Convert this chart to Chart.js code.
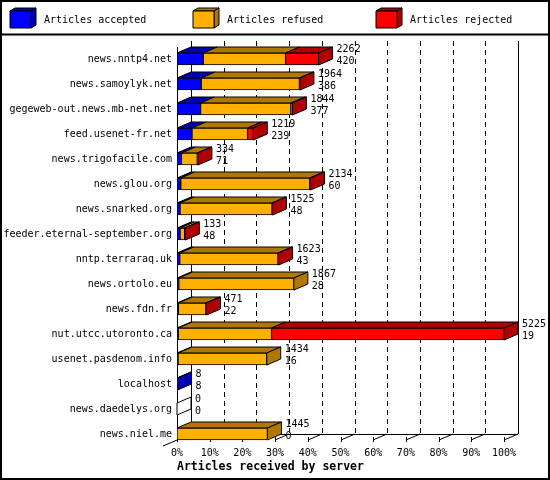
<!DOCTYPE html>
<html>
<head>
<meta charset="utf-8">
<script src="https://cdn.jsdelivr.net/npm/chart.js@4.4.1/dist/chart.umd.min.js"></script>
<style>
  html, body { margin: 0; padding: 0; background: #fff; }
  #wrap { width: 550px; height: 480px; }
</style>
</head>
<body>
<div id="wrap"><canvas id="chart"></canvas></div>
<script>
const servers = [
    'news.nntp4.net', 'news.samoylyk.net', 'gegeweb-out.news.mb-net.net', 'feed.usenet-fr.net',
    'news.trigofacile.com', 'news.glou.org', 'news.snarked.org', 'feeder.eternal-september.org',
    'nntp.terraraq.uk', 'news.ortolo.eu', 'news.fdn.fr', 'nut.utcc.utoronto.ca',
    'usenet.pasdenom.info', 'localhost', 'news.daedelys.org', 'news.niel.me'
];
const accepted = [420, 386, 377, 239, 71, 60, 48, 48, 43, 28, 22, 19, 16, 8, 0, 0];
const refused  = [1315, 1570, 1442, 889, 253, 2059, 1470, 75, 1570, 1839, 439, 1492, 1418, 0, 0, 1445];
const rejected = [527, 8, 25, 91, 10, 15, 7, 10, 10, 0, 10, 3714, 0, 0, 0, 0];

const seriesNames = ['Articles accepted', 'Articles refused', 'Articles rejected'];
const faceColors = ['#0000ff', '#ffb000', '#ff0000'];
const shadeColors = ['#0000b0', '#b07800', '#b00000'];
const axisTitle = 'Articles received by server';

const totals = servers.map((s, i) => accepted[i] + refused[i] + rejected[i]);
const maxTotal = Math.max(...totals);
const toPct = arr => arr.map(v => v / maxTotal * 100);

const DX = 14, DY = 6;
const FONT = '"DejaVu Sans Mono", monospace';
const px = v => Math.round(v) + 0.5;

function poly(ctx, pts, fill) {
    ctx.beginPath();
    ctx.moveTo(pts[0][0], pts[0][1]);
    pts.slice(1).forEach(p => ctx.lineTo(p[0], p[1]));
    ctx.closePath();
    ctx.fillStyle = fill;
    ctx.fill();
    ctx.stroke();
}

const threeD = {
    id: 'threeD',
    beforeDraw(chart) {
        const ctx = chart.ctx;
        ctx.save();
        ctx.fillStyle = '#fff';
        ctx.fillRect(0, 0, chart.width, chart.height);
        ctx.restore();
    },
    beforeDatasetsDraw(chart) {
        const { ctx, chartArea: a, scales: { x } } = chart;
        const n = servers.length;
        const lastBar = chart.getDatasetMeta(0).data[n - 1];
        const floorY = Math.round(lastBar.y + lastBar.height / 2);
        const wallTop = Math.round(a.top) - DY;
        const x0 = Math.round(x.getPixelForValue(0));
        const x100 = Math.round(x.getPixelForValue(100));

        ctx.save();
        ctx.strokeStyle = '#000';
        ctx.lineWidth = 1;

        // back wall dashed grid
        ctx.setLineDash([5, 4]);
        for (let t = 10; t < 100; t += 10) {
            const gx = px(x.getPixelForValue(t) + DX);
            ctx.beginPath();
            ctx.moveTo(gx, wallTop);
            ctx.lineTo(gx, floorY - DY);
            ctx.stroke();
        }
        ctx.setLineDash([]);

        // back wall edges, front axis, floor
        ctx.beginPath();
        ctx.moveTo(x0 + DX + 0.5, wallTop); ctx.lineTo(x0 + DX + 0.5, floorY - DY);
        ctx.moveTo(x100 + DX + 0.5, wallTop); ctx.lineTo(x100 + DX + 0.5, floorY - DY);
        ctx.moveTo(x0 + 0.5, Math.round(a.top)); ctx.lineTo(x0 + 0.5, floorY);
        ctx.moveTo(x0 + DX, floorY - DY + 0.5); ctx.lineTo(x100 + DX, floorY - DY + 0.5);
        ctx.moveTo(x0, floorY); ctx.lineTo(x0 - DX, floorY + DY);
        for (let t = 0; t <= 100; t += 10) {
            const fx = Math.round(x.getPixelForValue(t));
            ctx.moveTo(fx, floorY); ctx.lineTo(fx + DX, floorY - DY);
            ctx.moveTo(fx + 0.5, floorY - 3); ctx.lineTo(fx + 0.5, floorY + 2);
        }
        ctx.stroke();

        // top and side faces of the bars
        const metas = [0, 1, 2].map(d => chart.getDatasetMeta(d));
        for (let i = 0; i < n; i++) {
            let lastSeg = -1;
            metas.forEach((m, d) => {
                const el = m.data[i];
                const l = Math.min(el.base, el.x), r = Math.max(el.base, el.x);
                const top = el.y - el.height / 2;
                if (r - l > 0.05) {
                    lastSeg = d;
                    poly(ctx, [[l, top], [r, top], [r + DX, top - DY], [l + DX, top - DY]], shadeColors[d]);
                }
            });
            const ref = lastSeg >= 0 ? metas[lastSeg].data[i] : metas[0].data[i];
            const r = lastSeg >= 0 ? Math.max(ref.base, ref.x) : x0;
            const top = ref.y - ref.height / 2, bot = ref.y + ref.height / 2;
            poly(ctx, [[r, top], [r + DX, top - DY], [r + DX, bot - DY], [r, bot]],
                lastSeg >= 0 ? shadeColors[lastSeg] : '#fff');
        }
        ctx.restore();
    },
    afterDatasetsDraw(chart) {
        const { ctx, scales: { x } } = chart;
        const meta = chart.getDatasetMeta(0);
        ctx.save();
        ctx.fillStyle = '#000';
        ctx.font = '10px ' + FONT;
        ctx.textAlign = 'left';
        ctx.textBaseline = 'middle';
        totals.forEach((t, i) => {
            const el = meta.data[i];
            const tx = x.getPixelForValue(t / maxTotal * 100) + DX + 4;
            ctx.fillText(String(t), tx, el.y - 9.5);
            ctx.fillText(String(accepted[i]), tx, el.y + 2);
        });
        ctx.restore();
    },
    afterDraw(chart) {
        const ctx = chart.ctx;
        ctx.save();
        ctx.strokeStyle = '#000';
        ctx.lineWidth = 1;
        // legend with little cubes
        seriesNames.forEach((name, k) => {
            const fx = 10 + 183 * k, fy = 11, w = 21, h = 17, dx = 5, dy = 3;
            poly(ctx, [[fx, fy], [fx + w, fy], [fx + w + dx, fy - dy], [fx + dx, fy - dy]], shadeColors[k]);
            poly(ctx, [[fx + w, fy], [fx + w + dx, fy - dy], [fx + w + dx, fy + h - dy], [fx + w, fy + h]], shadeColors[k]);
            poly(ctx, [[fx, fy], [fx + w, fy], [fx + w, fy + h], [fx, fy + h]], faceColors[k]);
            ctx.fillStyle = '#000';
            ctx.font = '10px ' + FONT;
            ctx.textAlign = 'left';
            ctx.textBaseline = 'middle';
            ctx.fillText(name, fx + 34, 20.5);
        });
        ctx.lineWidth = 2;
        ctx.beginPath();
        ctx.moveTo(0, 34.5); ctx.lineTo(chart.width, 34.5);
        ctx.stroke();
        ctx.strokeRect(1, 1, chart.width - 2, chart.height - 2);
        ctx.restore();
    }
};

const datasets = [accepted, refused, rejected].map((arr, d) => ({
    label: seriesNames[d],
    data: toPct(arr),
    backgroundColor: faceColors[d],
    borderColor: '#000',
    borderWidth: 1,
    borderSkipped: false,
    barThickness: 12
}));

new Chart(document.getElementById('chart'), {
    type: 'bar',
    data: { labels: servers, datasets: datasets },
    plugins: [threeD],
    options: {
        indexAxis: 'y',
        responsive: true,
        maintainAspectRatio: false,
        devicePixelRatio: 1,
        animation: false,
        events: [],
        layout: { padding: { top: 46.5, right: 46, bottom: 0, left: 0 } },
        plugins: {
            legend: { display: false },
            tooltip: { enabled: false }
        },
        scales: {
            x: {
                stacked: true,
                min: 0,
                max: 100,
                grid: { display: false, drawTicks: false },
                border: { display: false },
                ticks: {
                    stepSize: 10,
                    padding: 1,
                    color: '#000',
                    font: { family: FONT, size: 10 },
                    callback: v => v + '%'
                },
                title: {
                    display: true,
                    text: axisTitle,
                    align: 'start',
                    color: '#000',
                    font: { family: FONT, size: 11.5, weight: 'bold' },
                    padding: { top: 0, bottom: 6 }
                },
                afterFit: s => { s.height = 33.5; }
            },
            y: {
                stacked: true,
                grid: { display: false, drawTicks: false },
                border: { display: false },
                ticks: {
                    padding: 5,
                    color: '#000',
                    font: { family: FONT, size: 10 }
                },
                afterFit: s => { s.width = 177; }
            }
        }
    }
});
</script>
</body>
</html>
